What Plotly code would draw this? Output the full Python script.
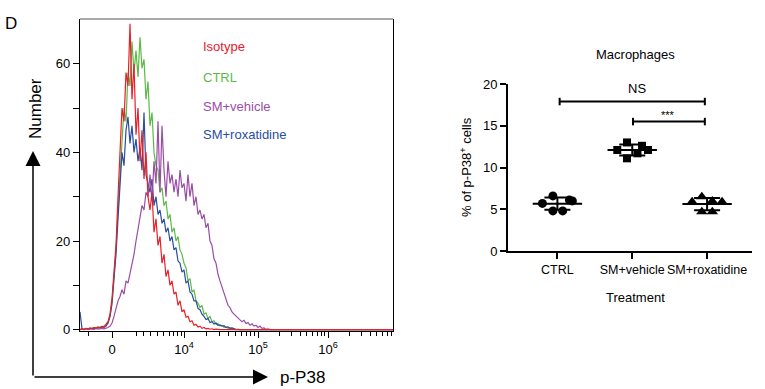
import numpy as np
import plotly.graph_objects as go

W, H = 765, 389

# ---------------- Left panel: flow-cytometry histograms ----------------
# display-channel bins (biexponential display scale), step 2
bins = np.arange(-32, 160, 2)
x_end = 281  # right end of the display scale

isotype = [0, 0.2, 0, 0.3, 0.2, 0.4, 0.2, 0.5, 0.3, 0.6,
           0.4, 0.8, 0.6, 1.2, 1.8, 3.5, 7, 13, 19, 30,
           41, 50, 47, 58, 55, 69, 52, 60, 44, 50,
           38, 45, 34, 40, 30, 27, 31, 22, 25, 19,
           21, 15, 17, 12, 13.5, 10, 11, 8, 8.5, 5.5,
           6.5, 4, 4.5, 2.8, 3, 1.8, 2, 1, 1.2, 0.6,
           0.8, 0.3, 0.5, 0.2, 0.3, 0.1, 0.2, 0, 0.1, 0,
           0, 0, 0, 0, 0, 0, 0, 0, 0, 0,
           0, 0, 0, 0, 0, 0, 0, 0, 0, 0,
           0, 0, 0, 0, 0, 0]

ctrl = [0, 0.2, 0.1, 0.3, 0, 0.2, 0.4, 0.2, 0.5, 0.3,
        0.6, 0.5, 0.9, 1.2, 1.5, 3, 6, 12, 18, 27,
        35, 43, 50, 47, 58, 55, 65, 58, 63, 57,
        66, 59, 61, 52, 56, 46, 49, 40, 37, 36,
        31, 32, 28, 29, 25, 26, 22, 23, 20, 21,
        18, 17, 15, 14, 11, 11.5, 8.5, 9, 6.5, 6,
        5, 5.5, 3.5, 3.8, 2.5, 3, 1.8, 2, 1.2, 1.4,
        0.8, 1, 0.5, 0.6, 0.3, 0.4, 0.2, 0.1, 0, 0.1,
        0, 0, 0, 0, 0, 0, 0, 0, 0, 0,
        0, 0, 0, 0, 0, 0]

sm_vehicle = [0, 0.1, 0, 0.2, 0, 0.1, 0.2, 0, 0.3, 0.1,
              0.2, 0.3, 0.2, 0.3, 0.5, 0.8, 1.5, 3, 5, 6.5,
              7.5, 9, 8, 11, 10.5, 12.5, 15, 17, 20, 23,
              25, 28, 27, 31, 30, 35, 29, 38, 33, 47,
              31, 46, 36, 30, 38, 33, 35, 31, 34, 30,
              36, 32, 33, 29, 35, 30, 33, 28, 30, 26,
              27, 25, 26, 23, 24, 20, 19, 16, 15, 12.5,
              11, 9.5, 8, 7, 5.5, 5, 4, 3.5, 3, 2.5,
              2.2, 1.8, 2.1, 1.4, 1.6, 1, 1.3, 0.8, 1, 0.5,
              0.8, 0.3, 0.4, 0.1, 0.2, 0]

sm_roxatidine = [4, 0.2, 0, 0.3, 0.1, 0.3, 0.2, 0.4, 0.3, 0.5,
                 0.4, 0.6, 0.5, 0.8, 1.5, 3, 6, 11, 17, 25,
                 33, 40, 37, 45, 48, 42, 46, 40, 43, 38,
                 41, 36, 49, 35, 33, 31, 34, 28, 30, 26,
                 27, 24, 25, 22, 23, 20, 21, 18, 18.5, 15.5,
                 15, 13, 13.5, 10.5, 11, 8.5, 8, 6.5, 6.5, 4.8,
                 4.5, 3.5, 3, 2.3, 2.5, 1.6, 1.8, 1.3, 1.5, 1,
                 1.1, 0.8, 0.9, 0.5, 0.6, 0.3, 0.4, 0.2, 0.1, 0,
                 0, 0, 0, 0, 0, 0, 0, 0, 0, 0,
                 0, 0, 0, 0, 0, 0]

hist_names = ["Isotype", "CTRL", "SM+vehicle", "SM+roxatidine"]
hist_tick_vals = [0, 72, 146, 216]
hist_tick_text = ["0", "10<sup>4</sup>", "10<sup>5</sup>", "10<sup>6</sup>"]

# ---------------- Right panel: % p-P38+ macrophages ----------------
groups = ["CTRL", "SM+vehicle", "SM+roxatidine"]
ctrl_pct = [6.6, 5.7, 6.1, 6.0, 4.8, 4.8]
vehicle_pct = [13.0, 12.1, 12.6, 12.1, 11.1, 11.7]
roxatidine_pct = [5.9, 6.5, 6.0, 5.9, 4.7, 4.7]
# horizontal scatter offsets of the dots within each group
ctrl_jit = [-0.06, -0.2, 0.16, 0.2, -0.06, 0.07]
vehicle_jit = [-0.07, -0.2, 0.13, 0.21, -0.07, 0.07]
roxatidine_jit = [-0.2, -0.07, 0.07, 0.2, -0.07, 0.07]

colors = {"Isotype": "#E8202A", "CTRL": "#5BBA47",
          "SM+vehicle": "#9A4DA6", "SM+roxatidine": "#2A4D9F"}


def px(x):
    return x / W


def py(y):
    return 1 - y / H


fig = go.Figure()

hist_series = {"Isotype": isotype, "CTRL": ctrl,
               "SM+vehicle": sm_vehicle, "SM+roxatidine": sm_roxatidine}
for name in ["CTRL", "SM+roxatidine", "SM+vehicle", "Isotype"]:
    vals = hist_series[name]
    fig.add_trace(go.Scatter(
        x=list(bins) + [x_end], y=list(vals) + [0], mode="lines",
        line=dict(color=colors[name], width=1.2),
        xaxis="x", yaxis="y", hoverinfo="skip", showlegend=False))

# right panel points
group_data = [(ctrl_pct, ctrl_jit, "circle", 9),
              (vehicle_pct, vehicle_jit, "square", 8),
              (roxatidine_pct, roxatidine_jit, "triangle-up", 10)]
for i, (vals, jit, sym, sz) in enumerate(group_data):
    m = float(np.mean(vals))
    sd = float(np.std(vals, ddof=1))
    fig.add_trace(go.Scatter(
        x=[i - 0.33, i + 0.33], y=[m, m], mode="lines",
        line=dict(color="black", width=2), xaxis="x2", yaxis="y2",
        hoverinfo="skip", showlegend=False))
    fig.add_trace(go.Scatter(
        x=[i], y=[m], mode="markers",
        marker=dict(size=1, color="rgba(0,0,0,0)"),
        error_y=dict(type="data", array=[sd], visible=True, color="black",
                     thickness=2, width=13),
        xaxis="x2", yaxis="y2", hoverinfo="skip", showlegend=False))
    fig.add_trace(go.Scatter(
        x=[i + j for j in jit], y=vals, mode="markers",
        marker=dict(symbol=sym, size=sz, color="black"),
        xaxis="x2", yaxis="y2", hoverinfo="skip", showlegend=False,
        cliponaxis=False))

font_family = "Liberation Sans, Arial, Helvetica, sans-serif"

minor_x = [-24, 24, 31, 38, 45, 51, 57, 61, 65, 69]
for a, b in [(72, 146), (146, 216), (216, 286)]:
    for k in range(2, 10):
        v = a + (b - a) * np.log10(k)
        if v < x_end:
            minor_x.append(round(float(v), 1))

fig.update_layout(
    width=W, height=H, margin=dict(l=0, r=0, t=0, b=0, pad=0, autoexpand=False),
    paper_bgcolor="white", plot_bgcolor="white",
    font=dict(family=font_family, color="black", size=13),
    showlegend=False,
    xaxis=dict(domain=[px(80), px(393)], range=[-32, x_end], anchor="y",
               automargin=False, tickangle=0,
               tickmode="array", tickvals=hist_tick_vals, ticktext=hist_tick_text,
               ticks="outside", ticklen=6, tickwidth=1.2, tickcolor="black",
               showline=True, linecolor="black", linewidth=1.3,
               showgrid=False, zeroline=False, layer="below traces",
               tickfont=dict(size=13),
               minor=dict(tickmode="array", tickvals=minor_x, ticks="outside",
                          ticklen=3.5, tickwidth=1, tickcolor="black", showgrid=False)),
    yaxis=dict(domain=[py(331), py(19)], range=[-0.3, 70.1], anchor="x",
               automargin=False,
               tickmode="array", tickvals=[0, 20, 40, 60],
               ticks="outside", ticklen=6, tickwidth=1, tickcolor="black",
               showline=True, linecolor="black", linewidth=1.2, mirror=True,
               showgrid=False, zeroline=False, tickfont=dict(size=13),
               minor=dict(tickmode="array", tickvals=[10, 30, 50], ticks="outside",
                          ticklen=6, tickwidth=1, tickcolor="black", showgrid=False)),
    xaxis2=dict(domain=[px(508), px(752)], range=[-0.66, 2.6], anchor="y2",
                automargin=False, tickangle=0,
                tickmode="array", tickvals=[0, 1, 2], ticktext=groups,
                ticks="outside", ticklen=6, tickwidth=2, tickcolor="black",
                showline=True, linecolor="black", linewidth=2,
                showgrid=False, zeroline=False, tickfont=dict(size=12.5)),
    yaxis2=dict(domain=[py(251), py(84)], range=[0, 20], anchor="x2",
                automargin=False,
                tickmode="array", tickvals=[0, 5, 10, 15, 20],
                ticks="outside", ticklen=6, tickwidth=2, tickcolor="black",
                showline=True, linecolor="black", linewidth=2,
                showgrid=False, zeroline=False, tickfont=dict(size=13)),
)

# top border of histogram box (thin grey)
fig.add_shape(type="line", xref="x domain", yref="y domain", x0=0, x1=1, y0=1, y1=1,
              line=dict(color="#555555", width=1))

# significance brackets
for (x0, x1, yv) in [(0.03, 1.97, 17.9), (1.01, 1.97, 15.5)]:
    fig.add_shape(type="line", xref="x2", yref="y2", x0=x0, x1=x1, y0=yv, y1=yv,
                  line=dict(color="black", width=2))
    for xe in (x0, x1):
        fig.add_shape(type="line", xref="x2", yref="y2", x0=xe, x1=xe,
                      y0=yv - 0.45, y1=yv + 0.45, line=dict(color="black", width=2))

ann = []


def txt(text, x, y, size, color="black", xanchor="center", angle=0):
    ann.append(dict(text=text, x=px(x), y=py(y), xref="paper", yref="paper",
                    showarrow=False, xanchor=xanchor, yanchor="middle",
                    textangle=angle, font=dict(size=size, color=color, family=font_family)))


txt("D", 11, 23, 17)
txt("Number", 35, 109, 17, angle=-90)
txt("p-P38", 278, 377, 17, xanchor="left")
for name, yy in zip(hist_names, [47, 77, 106, 134]):
    txt(name, 201, yy, 13, color=colors[name], xanchor="left")

txt("Macrophages", 635, 55, 13)
txt("% of p-P38<sup>+</sup> cells", 466, 167, 13, angle=-90)
txt("Treatment", 635, 297, 13)
txt("NS", 637, 88, 13)
txt("***", 668, 115, 11)

# axis arrows
ann.append(dict(x=px(33), y=py(151), xref="paper", yref="paper", ax=0, ay=226,
                showarrow=True, arrowhead=2, arrowsize=2, arrowwidth=1.5,
                arrowcolor="black", text=""))
ann.append(dict(x=px(268), y=py(377), xref="paper", yref="paper", ax=-235, ay=0,
                showarrow=True, arrowhead=2, arrowsize=2, arrowwidth=1.5,
                arrowcolor="black", text=""))

fig.update_layout(annotations=ann)

fig.write_html("out.html", config={"displayModeBar": False},
               post_script="document.body.style.margin='0';document.body.style.padding='0';")
